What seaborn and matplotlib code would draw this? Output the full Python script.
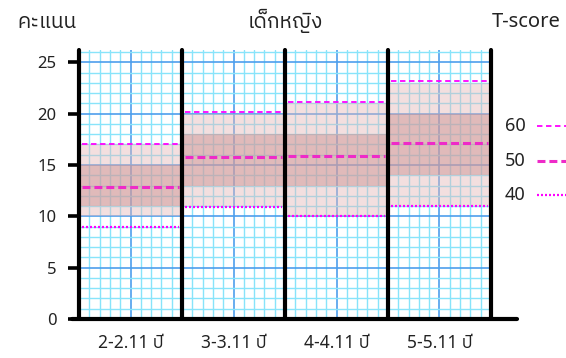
import numpy as np
import pandas as pd
import matplotlib
matplotlib.use("Agg")
import matplotlib.pyplot as plt
import seaborn as sns
from matplotlib import font_manager
from matplotlib.ft2font import FT2Font
from matplotlib.ticker import MultipleLocator
from matplotlib.lines import Line2D

# ---------------- data ----------------
groups = ["2-2.11 ปี", "3-3.11 ปี", "4-4.11 ปี", "5-5.11 ปี"]
t60 = [17.0, 20.2, 21.1, 23.2]
t50 = [12.9, 15.8, 15.9, 17.1]
t40 = [9.0, 10.9, 10.0, 11.0]
outer_lo = [10.0, 11.0, 10.0, 11.0]
outer_hi = [17.0, 20.0, 21.0, 23.0]
inner_lo = [11.0, 13.0, 13.0, 14.0]
inner_hi = [15.0, 18.0, 18.0, 20.0]
tscore_labels = ["60", "50", "40"]
yticks = [0, 5, 10, 15, 20, 25]
title_left = "คะแนน"
title_mid = "เด็กหญิง"
title_right = "T-score"


def find_thai_family():
    found = []
    for f in font_manager.fontManager.ttflist:
        try:
            cm = FT2Font(f.fname).get_charmap()
        except Exception:
            continue
        if 0x0E04 in cm and 0x0E34 in cm:
            found.append(f.name)
    if not found:
        return None
    for key in ("Thai", "Sans"):
        for n in found:
            if key in n:
                return n
    return found[0]


sns.set_style("white")
thai = find_thai_family()
fams = ["Noto Sans"]
if thai:
    fams.append(thai)
fams.append("DejaVu Sans")
plt.rcParams["font.family"] = fams

W, H = 566, 358
fig = plt.figure(figsize=(W / 100, H / 100), dpi=100)
ax = fig.add_axes([79 / W, 39 / H, (491 - 79) / W, 269 / H])

idx = np.arange(len(groups))

# bands
ax.bar(idx, np.array(outer_hi) - np.array(outer_lo), bottom=outer_lo, width=1.0,
       color="#E6B9B8", alpha=0.45, linewidth=0, zorder=2)
ax.bar(idx, np.array(inner_hi) - np.array(inner_lo), bottom=inner_lo, width=1.0,
       color="#C98E8E", alpha=0.45, linewidth=0, zorder=2)

# T-score lines via seaborn
inset = 0.03
rows = []
for lab, vals in zip(tscore_labels, [t60, t50, t40]):
    for i, v in enumerate(vals):
        rows.append({"x": i - 0.5 + inset, "y": v, "T": lab, "g": i})
        rows.append({"x": i + 0.5 - inset, "y": v, "T": lab, "g": i})
df = pd.DataFrame(rows)
palette = {"60": "#FF00FF", "50": "#EE2AC8", "40": "#FF00FF"}
sizes = {"60": 1.3, "50": 2.2, "40": 1.6}
dashes = {"60": (3, 2), "50": (2.6, 1.3), "40": (0.9, 0.9)}
sns.lineplot(data=df, x="x", y="y", hue="T", size="T", style="T", units="g",
             estimator=None, palette=palette, sizes=sizes, dashes=dashes,
             legend=False, ax=ax, zorder=4)

ax.set_xlim(-0.5, len(groups) - 0.5)
ax.set_ylim(0, 26.2)
ax.set_xticks(idx)
ax.set_xticklabels(groups)
ax.set_yticks(yticks)
ax.xaxis.set_minor_locator(MultipleLocator(0.1))
ax.yaxis.set_minor_locator(MultipleLocator(1))
ax.set_axisbelow(True)
ax.grid(which="minor", color="#88E4FA", lw=1.0, zorder=0)
ax.grid(which="major", color="#4E9EEC", lw=1.2, zorder=0)
ax.set_xlabel("")
ax.set_ylabel("")
ax.tick_params(axis="x", which="both", bottom=False, length=0, pad=11,
               labelsize=12.5, colors="#222222")
ax.tick_params(axis="y", which="major", left=True, length=8, width=2.6, direction="out",
               pad=8, labelsize=12, color="black", labelcolor="#222222")
ax.tick_params(axis="y", which="minor", left=False, length=0)
for s in ax.spines.values():
    s.set_visible(False)

# group separators
for b in np.arange(len(groups) + 1) - 0.5:
    ax.axvline(b, color="black", lw=3.0, zorder=6, clip_on=False)

# x-axis baseline
fig.add_artist(Line2D([72 / W, 517 / W], [39 / H, 39 / H], color="black", lw=3.0,
                      transform=fig.transFigure))

# titles
fig.text(17 / W, 1 - 22 / H, title_left, ha="left", va="center", fontsize=15, color="#222222")
fig.text(285 / W, 1 - 21 / H, title_mid, ha="center", va="center", fontsize=15, color="#222222")
fig.text(561 / W, 1 - 22 / H, title_right, ha="right", va="center", fontsize=14.5, color="#222222")

# legend on the right
leg_y = [126, 161, 195]
for lab, yy in zip(tscore_labels, leg_y):
    fig.text(505 / W, 1 - yy / H, lab, ha="left", va="center", fontsize=13, color="#222222")
    ln = Line2D([537 / W, 566 / W], [1 - yy / H, 1 - yy / H], color=palette[lab],
                lw=sizes[lab], transform=fig.transFigure)
    ln.set_dashes(dashes[lab])
    fig.add_artist(ln)

fig.savefig("out.png", dpi=100)
